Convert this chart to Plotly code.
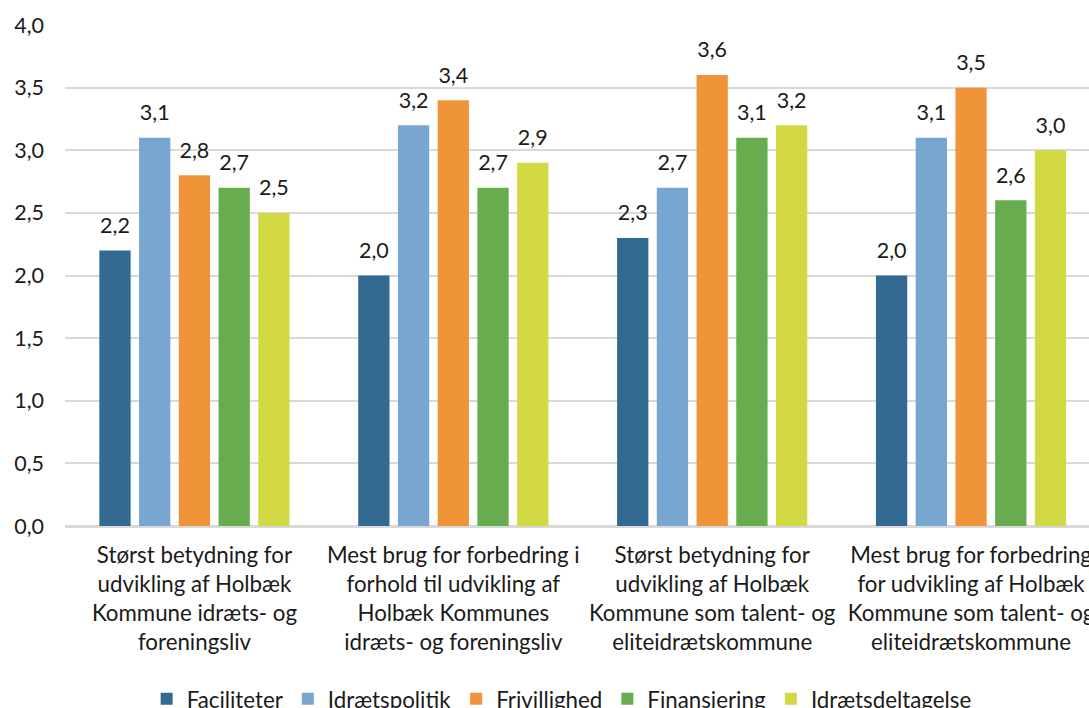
import plotly.graph_objects as go

categories = [
    "Størst betydning for<br>udvikling af Holbæk<br>Kommune idræts- og<br>foreningsliv",
    "Mest brug for forbedring i<br>forhold til udvikling af<br>Holbæk Kommunes<br>idræts- og foreningsliv",
    "Størst betydning for<br>udvikling af Holbæk<br>Kommune som talent- og<br>eliteidrætskommune",
    "Mest brug for forbedring<br>for udvikling af Holbæk<br>Kommune som talent- og<br>eliteidrætskommune",
]
series_names = ["Faciliteter", "Idrætspolitik", "Frivillighed", "Finansiering", "Idrætsdeltagelse"]
faciliteter = [2.2, 2.0, 2.3, 2.0]
idraetspolitik = [3.1, 3.2, 2.7, 3.1]
frivillighed = [2.8, 3.4, 3.6, 3.5]
finansiering = [2.7, 2.7, 3.1, 2.6]
idraetsdeltagelse = [2.5, 2.9, 3.2, 3.0]
series_values = [faciliteter, idraetspolitik, frivillighed, finansiering, idraetsdeltagelse]
colors = ["#336A91", "#77A6D0", "#F0943A", "#67AD4F", "#D2D942"]
y_ticks = [0, 0.5, 1.0, 1.5, 2.0, 2.5, 3.0, 3.5, 4.0]

FONT = "Lato"
FS = 21.5
FS_CAT = 22.3
FS_LEG = 22.3
TXT = "#1a1a1a"
fig = go.Figure()
for name, vals, col in zip(series_names, series_values, colors):
    fig.add_trace(go.Bar(
        x=categories, y=vals, name=name, marker=dict(color=col, line=dict(width=0)),
        offsetgroup=name, hoverinfo="skip",
    ))
for name, vals in zip(series_names, series_values):
    fig.add_trace(go.Scatter(
        x=categories, y=vals, mode="markers+text", offsetgroup=name,
        text=[f"{v:.1f}".replace(".", ",") for v in vals], textposition="top center",
        textfont=dict(family=FONT, size=FS, color=TXT),
        marker=dict(size=18, opacity=0), showlegend=False, hoverinfo="skip",
        cliponaxis=False,
    ))

W, H = 1089, 708
left, top, bottom = 64.5, 25, 526
cat_px = 259
x_end = -0.5 + (W - left) / cat_px

fig.update_layout(
    width=W, height=H,
    margin=dict(l=left, r=0, t=top, b=H - bottom, autoexpand=False),
    paper_bgcolor="white", plot_bgcolor="white",
    barmode="group", scattermode="group", bargap=0.2326, bargroupgap=0.2126, scattergap=0.2326,
    separators=",.",
    font=dict(family=FONT, size=FS, color=TXT),
    xaxis=dict(range=[-0.5, x_end], showgrid=False, ticks="", showline=False, automargin=False,
               tickfont=dict(family=FONT, size=FS_CAT, color=TXT), ticklabelstandoff=14),
    yaxis=dict(range=[0, 4], tickvals=y_ticks, tickformat=".1f", showgrid=True, automargin=False,
               gridcolor="#D9D9D9", gridwidth=1.5, zeroline=True, zerolinecolor="#D9D9D9",
               zerolinewidth=2.5, ticks="", showline=False, ticklabelstandoff=20,
               tickfont=dict(family=FONT, size=FS, color=TXT)),
    legend=dict(orientation="h", x=0.485, xanchor="center", y=-0.345, yanchor="middle",
                font=dict(family=FONT, size=FS_LEG, color=TXT), traceorder="normal",
                itemwidth=30),
)
fig.write_html("out.html", config={"displayModeBar": False},
               post_script="document.body.style.margin='0';document.body.style.overflow='hidden';")
